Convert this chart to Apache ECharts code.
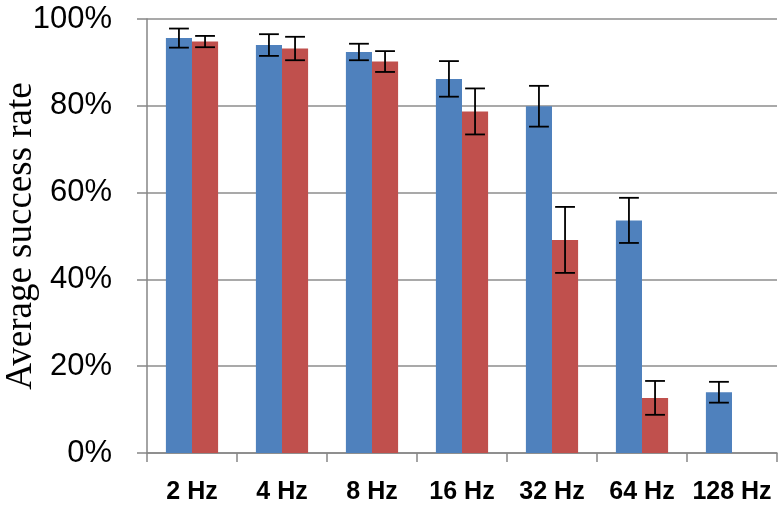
<!DOCTYPE html>
<html>
<head>
<meta charset="utf-8">
<script src="https://cdn.jsdelivr.net/npm/echarts@6/dist/echarts.min.js"></script>
<style>
html,body{margin:0;padding:0;background:#fff;}
#chart{width:784px;height:508px;}
</style>
</head>
<body>
<div id="chart"></div>
<script>
const categories = ['2 Hz', '4 Hz', '8 Hz', '16 Hz', '32 Hz', '64 Hz', '128 Hz'];
const blueValues = [95.6, 94.0, 92.4, 86.2, 79.9, 53.6, 14.0];
const redValues  = [94.8, 93.2, 90.2, 78.7, 49.1, 12.7, null];
const blueErr    = [2.2, 2.5, 1.9, 4.1, 4.7, 5.2, 2.4];
const redErr     = [1.3, 2.7, 2.4, 5.3, 7.6, 3.9, null];
const yTicks     = [0, 20, 40, 60, 80, 100];

const BAR_FRAC = 0.29;
const BLUE = '#4F81BD';
const RED = '#C0504D';

function errData(vals, errs, s) {
  const out = [];
  vals.forEach((v, i) => {
    if (v != null && errs[i] != null) out.push([i, v - errs[i], v + errs[i], s]);
  });
  return out;
}

function renderErr(params, api) {
  const idx = api.value(0);
  const lo = api.coord([idx, api.value(1)]);
  const hi = api.coord([idx, api.value(2)]);
  const s = api.value(3);
  const cw = api.size([1, 0])[0];
  const bw = cw * BAR_FRAC;
  const x = lo[0] + (s - 0.5) * bw;
  const cap = bw * 0.38;
  const style = { stroke: '#000', lineWidth: 1.8 };
  return {
    type: 'group',
    children: [
      { type: 'line', shape: { x1: x, y1: lo[1], x2: x, y2: hi[1] }, style },
      { type: 'line', shape: { x1: x - cap, y1: lo[1], x2: x + cap, y2: lo[1] }, style },
      { type: 'line', shape: { x1: x - cap, y1: hi[1], x2: x + cap, y2: hi[1] }, style }
    ]
  };
}

const chart = echarts.init(document.getElementById('chart'));
chart.setOption({
  animation: false,
  backgroundColor: '#fff',
  grid: { left: 147, right: 7, top: 19, bottom: 55, containLabel: false, outerBoundsMode: 'none' },
  xAxis: {
    type: 'category',
    data: categories,
    axisLine: { lineStyle: { color: '#868686', width: 1.5 } },
    axisTick: { show: true, length: 9, inside: false, alignWithLabel: false, lineStyle: { color: '#868686', width: 1.5 } },
    axisLabel: {
      color: '#000', fontSize: 25, fontWeight: 'bold',
      fontFamily: '"Liberation Sans", sans-serif',
      margin: 27, interval: 0
    },
    splitLine: { show: false }
  },
  yAxis: {
    type: 'value',
    min: yTicks[0],
    max: yTicks[yTicks.length - 1],
    interval: 20,
    name: 'Average success rate',
    nameLocation: 'middle',
    nameGap: 107,
    nameMoveOverlap: false,
    nameTextStyle: { fontFamily: '"Liberation Serif", serif', fontSize: 37, color: '#000' },
    axisLine: { show: true, lineStyle: { color: '#868686', width: 1.5 } },
    axisTick: { show: true, length: 10, lineStyle: { color: '#868686', width: 1.5 } },
    axisLabel: {
      color: '#000', fontSize: 31,
      fontFamily: '"Liberation Sans", sans-serif',
      margin: 35,
      formatter: '{value}%'
    },
    splitLine: { show: true, lineStyle: { color: '#8C8C8C', width: 1.5 } }
  },
  series: [
    {
      type: 'bar', name: 'A', data: blueValues,
      barWidth: (BAR_FRAC * 100) + '%', barGap: '0%',
      itemStyle: { color: BLUE }, z: 2
    },
    {
      type: 'bar', name: 'B', data: redValues.map(v => v == null ? '-' : v),
      barWidth: (BAR_FRAC * 100) + '%', barGap: '0%',
      itemStyle: { color: RED }, z: 2
    },
    {
      type: 'custom', name: 'errA', renderItem: renderErr,
      data: errData(blueValues, blueErr, 0), z: 5,
      encode: { x: 0, y: [1, 2] }
    },
    {
      type: 'custom', name: 'errB', renderItem: renderErr,
      data: errData(redValues, redErr, 1), z: 5,
      encode: { x: 0, y: [1, 2] }
    }
  ]
});
</script>
</body>
</html>
